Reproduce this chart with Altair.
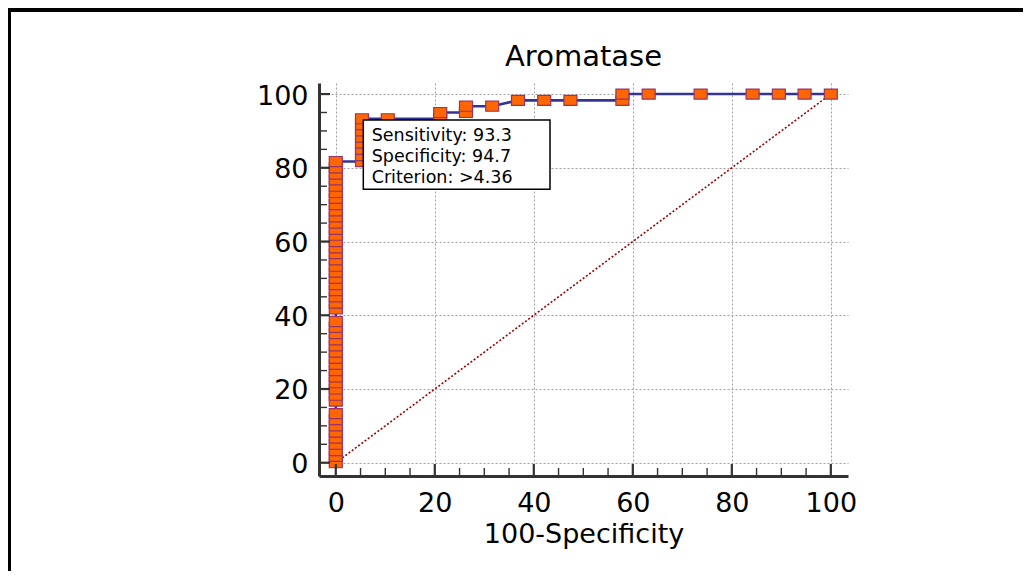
import altair as alt
import pandas as pd

# ---------------- data ----------------
TITLE = "Aromatase"
X_TITLE = "100-Specificity"

# ROC points (100-Specificity, Sensitivity), in drawing order
FPR = [0.0] * 48 + [5.3] * 8 + [10.5, 21.1, 21.1, 26.3, 26.3, 31.6, 36.8, 42.1, 47.4,
                                57.9, 57.9, 63.2, 73.7, 84.2, 89.5, 94.7, 100.0]
TPR = [0.0, 1.7, 3.3, 5.0, 6.7, 8.3, 10.0, 11.7, 13.3,
       16.7, 18.3, 20.0, 21.7, 23.3, 25.0, 26.7, 28.3, 30.0, 31.7, 33.3, 35.0, 36.7, 38.3,
       41.7, 43.3, 45.0, 46.7, 48.3, 50.0, 51.7, 53.3, 55.0, 56.7, 58.3, 60.0, 61.7, 63.3,
       65.0, 66.7, 68.3, 70.0, 71.7, 73.3, 75.0, 76.7, 78.3, 80.0, 81.7,
       81.7, 83.3, 85.0, 86.7, 88.3, 90.0, 91.7, 93.3,
       93.3, 93.3, 95.0, 95.0, 96.7, 96.7, 98.3, 98.3, 98.3,
       98.3, 100.0, 100.0, 100.0, 100.0, 100.0, 100.0, 100.0]

DIAG_X = [0, 100]
DIAG_Y = [0, 100]

MAJOR_TICKS = [0, 20, 40, 60, 80, 100]
MINOR_TICKS = [5, 10, 15, 25, 30, 35, 45, 50, 55, 65, 70, 75, 85, 90, 95]

BOX_LINES = ["Sensitivity: 93.3", "Specificity: 94.7", "Criterion: >4.36"]

# ---------------- layout / style ----------------
W, H = 529, 393
PAD = {"left": 311, "top": 75, "right": 175, "bottom": 95}
X_DOMAIN = [-3.39, 103.47]
Y_DOMAIN = [-3.6, 103.0]
FONT = "DejaVu Sans"
AXIS_COLOR = "#333333"

xscale = alt.Scale(domain=X_DOMAIN, nice=False, zero=False)
yscale = alt.Scale(domain=Y_DOMAIN, nice=False, zero=False)

x_axis = alt.Axis(values=MAJOR_TICKS, grid=True, gridDash=[2, 2], gridColor="#a0a0a0",
                  gridWidth=1, ticks=False, tickSize=0, domainColor=AXIS_COLOR,
                  domainWidth=3, labelFont=FONT, labelFontSize=27, labelColor="black",
                  labelPadding=14, labelFlush=False, title=X_TITLE, titleFont=FONT,
                  titleFontSize=27, titleFontWeight="normal", titleColor="black",
                  titlePadding=5)
y_axis = alt.Axis(values=MAJOR_TICKS, grid=True, gridDash=[2, 2], gridColor="#a0a0a0",
                  gridWidth=1, ticks=False, tickSize=0, domainColor=AXIS_COLOR,
                  domainWidth=3, labelFont=FONT, labelFontSize=27, labelColor="black",
                  labelPadding=11, labelFlush=False, labelOffset=2, title=None)


def X(field="x"):
    return alt.X(f"{field}:Q", scale=xscale, axis=x_axis)


def Y(field="y"):
    return alt.Y(f"{field}:Q", scale=yscale, axis=y_axis)


roc = pd.DataFrame({"x": FPR, "y": TPR, "o": list(range(len(FPR)))})
diag = pd.DataFrame({"x": DIAG_X, "y": DIAG_Y})
major = pd.DataFrame({"x": MAJOR_TICKS, "y": MAJOR_TICKS})
minor = pd.DataFrame({"x": MINOR_TICKS, "y": MINOR_TICKS})
one = pd.DataFrame({"k": [0]})

diag_layer = alt.Chart(diag).mark_line(color="#990000", strokeWidth=1.6,
                                       strokeDash=[2, 2]).encode(x=X(), y=Y())

roc_line = alt.Chart(roc).mark_line(color="#333399", strokeWidth=2.6).encode(
    x=X(), y=Y(), order="o:Q")

SQUARE = "M-1,-0.77L1,-0.77L1,0.77L-1,0.77Z"
roc_pts = alt.Chart(roc).mark_point(shape=SQUARE, size=169, filled=True, fill="#FF6600",
                                    stroke="#993366", strokeWidth=1.2, opacity=1).encode(
    x=X(), y=Y())

ytick_major = alt.Chart(major).mark_rule(color=AXIS_COLOR, strokeWidth=2.2).encode(
    y=Y(), x=alt.value(0), x2=alt.value(11))
ytick_minor = alt.Chart(minor).mark_rule(color=AXIS_COLOR, strokeWidth=1.4).encode(
    y=Y(), x=alt.value(0), x2=alt.value(8))
xtick_major = alt.Chart(major).mark_rule(color=AXIS_COLOR, strokeWidth=2.2).encode(
    x=X(), y=alt.value(H), y2=alt.value(H - 12))
xtick_minor = alt.Chart(minor).mark_rule(color=AXIS_COLOR, strokeWidth=1.4).encode(
    x=X(), y=alt.value(H), y2=alt.value(H - 8))

box = alt.Chart(one).mark_rect(fill="white", stroke="black", strokeWidth=1.5).encode(
    x=alt.value(44.3), x2=alt.value(231), y=alt.value(37), y2=alt.value(106.3))
box_text = alt.Chart(one).mark_text(align="left", baseline="alphabetic", font=FONT,
                                    fontSize=17.5, lineHeight=21, color="black").encode(
    x=alt.value(52.7), y=alt.value(58.2), text=alt.value(BOX_LINES))

title_text = alt.Chart(one).mark_text(align="center", baseline="alphabetic", font=FONT,
                                      fontSize=29, color="black").encode(
    x=alt.value(W / 2), y=alt.value(-17), text=alt.value(TITLE))

frame_top = alt.Chart(one).mark_rule(color="black", strokeWidth=5).encode(
    x=alt.value(-PAD["left"]), x2=alt.value(W + PAD["right"]),
    y=alt.value(-PAD["top"] + 1.5))
frame_left = alt.Chart(one).mark_rule(color="black", strokeWidth=5).encode(
    x=alt.value(-PAD["left"] + 0.5), y=alt.value(-PAD["top"]),
    y2=alt.value(H + PAD["bottom"]))

chart = alt.layer(
    diag_layer, roc_line, roc_pts, ytick_major, ytick_minor, xtick_major, xtick_minor,
    box, box_text, title_text, frame_top, frame_left
).properties(
    width=W, height=H,
    autosize=alt.AutoSizeParams(type="none"),
    padding=PAD,
    background="white",
).configure_view(stroke=None)

chart.save("out.html", embed_options={"renderer": "svg", "actions": False})
